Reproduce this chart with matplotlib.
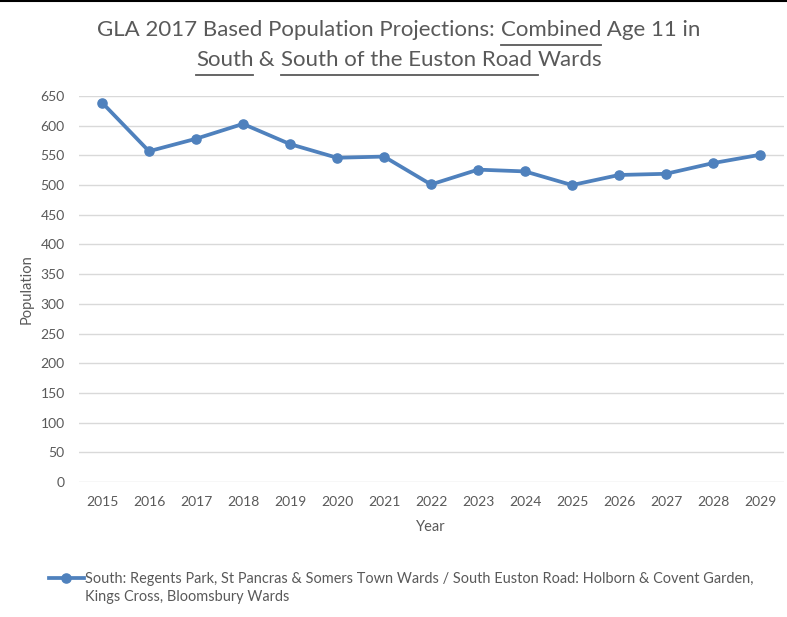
import matplotlib
matplotlib.use("Agg")
import matplotlib.pyplot as plt
from matplotlib.lines import Line2D

years = ["2015", "2016", "2017", "2018", "2019", "2020", "2021", "2022",
         "2023", "2024", "2025", "2026", "2027", "2028", "2029"]
population = [639, 557, 578, 603, 569, 546, 548, 501,
              526, 523, 500, 517, 519, 537, 551]
y_ticks = list(range(0, 651, 50))
series_label = ["South: Regents Park, St Pancras & Somers Town Wards / South Euston Road: "
                "Holborn & Covent Garden,",
                "Kings Cross, Bloomsbury Wards"]
# title pieces: (text, underlined?)
title_lines = [
    [("GLA 2017 Based Population Projections: ", False), ("Combined", True), (" Age 11 in", False)],
    [("South", True), (" & ", False), ("South of the Euston Road ", True), ("Wards", False)],
]

plt.rcParams['font.family'] = ['Lato', 'DejaVu Sans']
TXT = "#595959"
BLUE = "#4F81BD"

fig = plt.figure(figsize=(7.87, 6.17), dpi=100)
W, H = 787, 617
ax = fig.add_axes([78.5 / W, 1 - 482 / H, (783.5 - 78.5) / W, (482 - 96) / H])

x = list(range(len(years)))
ax.plot(x, population, color=BLUE, lw=2.7, marker="o", ms=6.6,
        solid_joinstyle="round", label=series_label[0], clip_on=False, zorder=3)

ax.set_xlim(-0.5, len(years) - 0.5)
ax.set_ylim(0, 650)
ax.set_yticks(y_ticks)
ax.set_xticks(x)
ax.set_xticklabels(years)
ax.yaxis.grid(True, color="#D9D9D9", lw=1)
ax.set_axisbelow(True)
for s in ax.spines.values():
    s.set_visible(False)
ax.tick_params(axis="both", length=0, labelsize=10, labelcolor=TXT)
ax.tick_params(axis="y", pad=10)
ax.tick_params(axis="x", pad=10)
ax.set_xlabel("Year", fontsize=10.5, color=TXT, labelpad=9)
ax.set_ylabel("Population", fontsize=10.5, color=TXT, labelpad=5)

leg = fig.legend(loc="upper left", bbox_to_anchor=(36 / W, 1 - 559 / H),
                 frameon=False, fontsize=10.45, handlelength=2.4, handletextpad=0.1,
                 labelcolor=TXT)

fig.canvas.draw()
renderer = fig.canvas.get_renderer()

# second line of the legend entry, under the first
lt = leg.get_texts()[0]
bb = lt.get_window_extent(renderer)
fig.text(bb.x0 / W, (bb.y0 - 18) / H, series_label[1], fontsize=10.45, color=TXT,
         ha="left", va="bottom")

# title with underlined words
title_fs = 16
title_y = [1 - 30 / H, 1 - 60 / H]
for pieces, ty in zip(title_lines, title_y):
    widths = []
    for txt, _ in pieces:
        t = fig.text(0, 0, txt, fontsize=title_fs, color=TXT)
        widths.append(t.get_window_extent(renderer).width)
        t.remove()
    left = 399 - sum(widths) / 2
    for (txt, under), w in zip(pieces, widths):
        fig.text(left / W, ty, txt, fontsize=title_fs, color=TXT, va="center", ha="left")
        if under:
            uy = ty - 14.5 / H
            fig.add_artist(Line2D([left / W, (left + w) / W], [uy, uy],
                                  color=TXT, lw=1.3, transform=fig.transFigure))
        left += w

fig.add_artist(Line2D([0, 1], [1 - 1 / H, 1 - 1 / H], color="black", lw=1.5,
                      transform=fig.transFigure))

fig.savefig("out.png", dpi=100, facecolor="white")
